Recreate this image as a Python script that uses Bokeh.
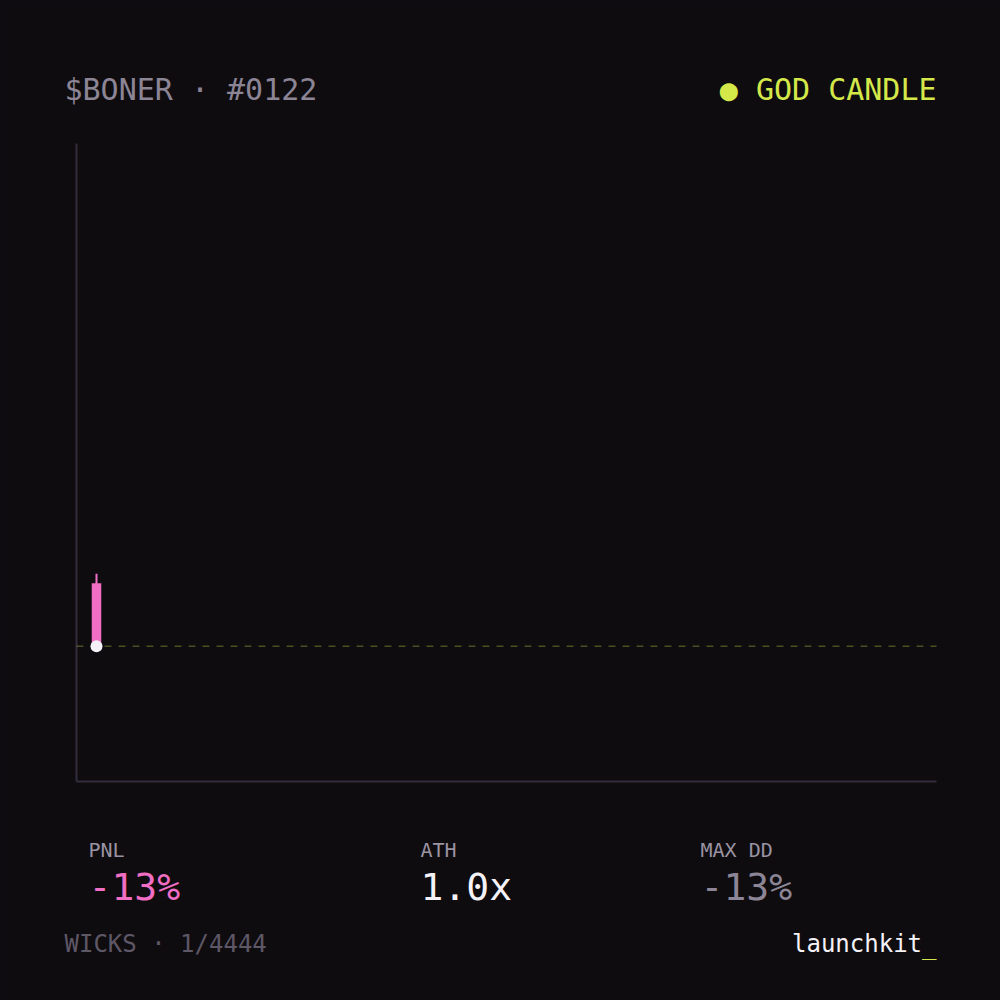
from bokeh.plotting import figure
from bokeh.models import Label, Range1d
from bokeh.embed import file_html
from bokeh.resources import INLINE

# ---- data ----
candle_idx = [0]
opens = [1.00]
closes = [1.13]
highs = [1.15]
lows = [1.00]
entry_price = 1.00
x_span = (-2, 84)        # chart-area value range (x)
y_span = (0.72, 2.04)    # chart-area value range (y)

title_text = "$BONER · #0122"
status_text = "● GOD CANDLE"
stat_labels = ["PNL", "ATH", "MAX DD"]
stat_values = ["-13%", "1.0x", "-13%"]
footer_left = "WICKS · 1/4444"
brand_text = "launchkit"
brand_cursor = "_"

# ---- style ----
BG = "#0f0c10"
AXIS = "#322c3c"
PINK = "#f06ec4"
LIME = "#d4e84a"
GREY = "#8c8596"
LABEL_GREY = "#9a93a2"
DIM = "#5d5766"
WHITE = "#f4f2f7"
FONT = "DejaVu Sans Mono"

W, H = 1000, 1000
CL, CR, CT, CB = 76, 936, 143, 781   # chart area on the canvas

# extend the value ranges so the chart area sits at CL..CR / CT..CB of the full canvas
xu = (x_span[1] - x_span[0]) / (CR - CL)
yu = (y_span[1] - y_span[0]) / (CB - CT)
x_range = Range1d(x_span[0] - CL * xu, x_span[1] + (W - CR) * xu)
y_range = Range1d(y_span[0] - (H - CB) * yu, y_span[1] + CT * yu)

p = figure(width=W, height=H, output_backend="svg", toolbar_location=None,
           x_range=x_range, y_range=y_range, x_axis_type=None, y_axis_type=None,
           min_border=0)
p.background_fill_color = BG
p.border_fill_color = BG
p.outline_line_color = None
p.grid.visible = False

# axis lines of the chart area
p.segment(x0=[x_span[0], x_span[0]], y0=[y_span[0], y_span[0]],
          x1=[x_span[0], x_span[1]], y1=[y_span[1], y_span[0]],
          line_color=AXIS, line_width=2)

# entry dashed line
p.segment(x0=[x_span[0]], y0=[entry_price], x1=[x_span[1]], y1=[entry_price],
          line_color=LIME, line_alpha=0.3, line_width=1.5, line_dash="7 7")

# candle
p.segment(x0=candle_idx, y0=lows, x1=candle_idx, y1=highs, line_color=PINK, line_width=2)
p.vbar(x=candle_idx, width=0.95, top=[max(o, c) for o, c in zip(opens, closes)],
       bottom=[min(o, c) for o, c in zip(opens, closes)], fill_color=PINK, line_color=None)

# entry marker
p.scatter(x=[candle_idx[-1]], y=[entry_price], size=12, fill_color=WHITE, line_color=None)

def lab(text, X, Y, size, color, align="left"):
    # Y is the wanted baseline on the canvas; compensate Bokeh's baseline placement
    Yb = Y - 0.37 * size
    p.add_layout(Label(x=X, y=H - Yb, x_units="screen", y_units="screen",
                       text=text, text_font=FONT, text_font_size=f"{size}px",
                       text_color=color, text_align=align, text_baseline="alphabetic"))

lab(title_text, 64, 100, 30, GREY)
lab(status_text, 936, 100, 30, LIME, "right")

cols = [88, 420, 700]
val_colors = [PINK, WHITE, GREY]
for x, t, v, c in zip(cols, stat_labels, stat_values, val_colors):
    lab(t, x, 857, 20, LABEL_GREY)
    lab(v, x, 901, 38, c)

lab(footer_left, 64, 952, 24, DIM)
lab(brand_text, 936 - 24 * 0.602, 952, 24, WHITE, "right")
lab(brand_cursor, 936, 954, 24, LIME, "right")

html = file_html(p, INLINE)
html = html.replace("<head>", "<head><style>html,body{margin:0;padding:0;background:%s;overflow:hidden}</style>" % BG, 1)
open("out.html", "w").write(html)
